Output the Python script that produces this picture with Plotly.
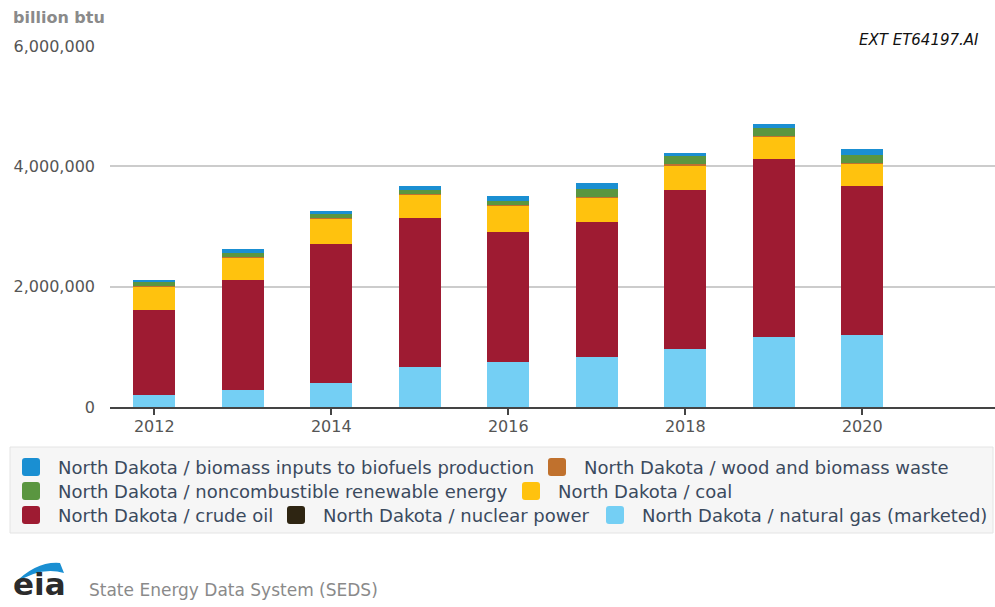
import plotly.graph_objects as go

years = [2012, 2013, 2014, 2015, 2016, 2017, 2018, 2019, 2020]

natural_gas = [207000, 290000, 400000, 657000, 745000, 833000, 962000, 1167000, 1195000]
crude_oil = [1410000, 1820000, 2310000, 2480000, 2170000, 2250000, 2650000, 2960000, 2470000]
nuclear = [0, 0, 0, 0, 0, 0, 0, 0, 0]
coal = [380000, 380000, 420000, 400000, 430000, 400000, 410000, 370000, 380000]
wood_waste = [9000, 9000, 10000, 10000, 10000, 10000, 11000, 11000, 10000]
noncombustible = [75000, 65000, 65000, 60000, 75000, 135000, 135000, 135000, 130000]
biofuels = [30000, 65000, 55000, 70000, 70000, 90000, 60000, 60000, 100000]

y_ticks = [0, 2000000, 4000000, 6000000]
x_ticks = [2012, 2014, 2016, 2018, 2020]

# name, values, colour (stack order: bottom to top)
series = [
    ("North Dakota / natural gas (marketed)", natural_gas, "#74cff4"),
    ("North Dakota / crude oil", crude_oil, "#9e1b32"),
    ("North Dakota / nuclear power", nuclear, "#2e2512"),
    ("North Dakota / coal", coal, "#ffc20e"),
    ("North Dakota / wood and biomass waste", wood_waste, "#c0712d"),
    ("North Dakota / noncombustible renewable energy", noncombustible, "#5a9640"),
    ("North Dakota / biomass inputs to biofuels production", biofuels, "#1a8fd2"),
]

# legend rows as in the reference (names only; placement below)
legend_rows = [
    ["North Dakota / biomass inputs to biofuels production", "North Dakota / wood and biomass waste"],
    ["North Dakota / noncombustible renewable energy", "North Dakota / coal"],
    ["North Dakota / crude oil", "North Dakota / nuclear power", "North Dakota / natural gas (marketed)"],
]

W, H = 995, 607
L, R, T, B = 110, 0, 46, 200
PW = W - L - R
PH = H - T - B


def px(xp):
    return (xp - L) / PW


def py(yp):
    return (H - B - yp) / PH


fig = go.Figure()
for name, vals, color in series:
    fig.add_trace(go.Bar(
        x=years, y=vals, name=name, width=0.48,
        marker=dict(color=color, line=dict(width=0)),
    ))

FONT = "DejaVu Sans"

fig.update_layout(
    width=W, height=H,
    margin=dict(l=L, r=R, t=T, b=B, pad=0, autoexpand=False),
    barmode="stack",
    plot_bgcolor="white",
    paper_bgcolor="white",
    showlegend=False,
    font=dict(family=FONT, color="#555555"),
    xaxis=dict(
        range=[2011.5, 2021.5],
        tickvals=x_ticks,
        ticktext=[str(v) for v in x_ticks],
        ticks="outside", ticklen=6, tickwidth=1.5, tickcolor="#444444",
        showline=True, linecolor="#444444", linewidth=1.5,
        showgrid=False, zeroline=False,
        tickfont=dict(family=FONT, size=16, color="#555555"),
        ticklabelstandoff=-2,
        automargin=False,
    ),
    yaxis=dict(
        range=[0, 6000000],
        tickvals=y_ticks,
        ticktext=[f"{v:,}" for v in y_ticks],
        showgrid=True, gridcolor="#cccccc", gridwidth=1.5,
        zeroline=False, showline=False, ticks="",
        ticklabelstandoff=14,
        tickfont=dict(family=FONT, size=16, color="#555555"),
        automargin=False,
    ),
)

# legend background box
fig.add_shape(type="rect", xref="paper", yref="paper",
              x0=px(10), x1=px(993), y0=py(533), y1=py(447),
              fillcolor="#f6f6f6", line=dict(color="#e4e4e4", width=1), layer="below")

colors = {name: color for name, _, color in series}
row_y = [467, 491, 515]
row_x = [[22, 548], [22, 522], [22, 287, 606]]


def rounded_square(x0, yc, size=18, r=3):
    x1 = x0 + size
    y0 = yc - size / 2
    y1 = yc + size / 2
    return (f"M {px(x0 + r)},{py(y0)} L {px(x1 - r)},{py(y0)} Q {px(x1)},{py(y0)} {px(x1)},{py(y0 + r)} "
            f"L {px(x1)},{py(y1 - r)} Q {px(x1)},{py(y1)} {px(x1 - r)},{py(y1)} "
            f"L {px(x0 + r)},{py(y1)} Q {px(x0)},{py(y1)} {px(x0)},{py(y1 - r)} "
            f"L {px(x0)},{py(y0 + r)} Q {px(x0)},{py(y0)} {px(x0 + r)},{py(y0)} Z")


for names, yc, xs in zip(legend_rows, row_y, row_x):
    for name, x0 in zip(names, xs):
        fig.add_shape(type="path", xref="paper", yref="paper",
                      path=rounded_square(x0, yc), fillcolor=colors[name], line=dict(width=0))
        fig.add_annotation(text=name, xref="paper", yref="paper",
                           x=px(x0 + 34), y=py(yc), xanchor="left", yanchor="middle",
                           showarrow=False,
                           font=dict(family=FONT, size=18, color="#3b4a5e"))

# eia swoosh
sx = [14, 36, 60, 64, 40, 14]
sy = [584, 561, 563, 573, 566, 584]
path = (f"M {px(sx[0])},{py(sy[0])} Q {px(sx[1])},{py(sy[1])} {px(sx[2])},{py(sy[2])} "
        f"L {px(sx[3])},{py(sy[3])} Q {px(sx[4])},{py(sy[4])} {px(sx[5])},{py(sy[5])} Z")
fig.add_shape(type="path", xref="paper", yref="paper", path=path,
              fillcolor="#1a8fd2", line=dict(width=0))

fig.add_annotation(text="<b>billion btu</b>", xref="paper", yref="paper",
                   x=px(11), y=py(6), xanchor="left", yanchor="top", showarrow=False,
                   font=dict(family=FONT, size=16, color="#8a8a8a"))
fig.add_annotation(text="<i>EXT ET64197.AI</i>", xref="paper", yref="paper",
                   x=px(981), y=py(29), xanchor="right", yanchor="top", showarrow=False,
                   font=dict(family=FONT, size=15, color="#111111"))
fig.add_annotation(text="<b>eia</b>", xref="paper", yref="paper",
                   x=px(11), y=py(604), xanchor="left", yanchor="bottom", showarrow=False,
                   font=dict(family=FONT, size=31, color="#2b2b2b"))
fig.add_annotation(text="State Energy Data System (SEDS)", xref="paper", yref="paper",
                   x=px(87), y=py(602), xanchor="left", yanchor="bottom", showarrow=False,
                   font=dict(family=FONT, size=17, color="#8a8a8a"))

fig.write_html(
    "out.html",
    config={"displayModeBar": False},
    post_script="document.body.style.margin='0px';document.body.style.overflow='hidden';",
)
